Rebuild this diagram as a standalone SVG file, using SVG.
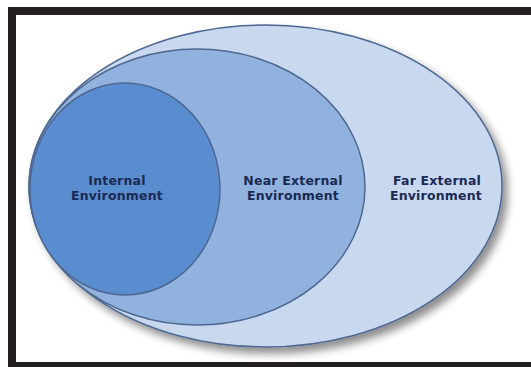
<svg xmlns="http://www.w3.org/2000/svg" width="531" height="367" viewBox="0 0 531 367">
<defs>
<filter id="sh" x="-10%" y="-10%" width="125%" height="130%">
<feGaussianBlur in="SourceAlpha" stdDeviation="4"/>
<feOffset dx="5" dy="6" result="b"/>
<feComponentTransfer><feFuncA type="linear" slope="0.45"/></feComponentTransfer>
<feMerge><feMergeNode/><feMergeNode in="SourceGraphic"/></feMerge>
</filter>
</defs>
<style>
.lbl{font-family:"DejaVu Sans",Verdana,sans-serif;font-weight:bold;font-size:12.5px;fill:#1b2a52;text-anchor:middle;letter-spacing:0.2px}
.ring{stroke:#4d6791;stroke-width:1.5}
</style>
<rect x="0" y="0" width="531" height="367" fill="#ffffff"/>
<g id="frame" fill="#231f20">
<rect x="8" y="7" width="523" height="8"/>
<rect x="8" y="7" width="8" height="360"/>
<rect x="8" y="362" width="523" height="5"/>
</g>
<g id="far">
<ellipse cx="265.5" cy="186" rx="236.5" ry="161" fill="#c7d8ef" class="ring" filter="url(#sh)"/>
<text class="lbl" x="437" y="185">Far External</text>
<text class="lbl" x="436" y="200">Environment</text>
</g>
<g id="near">
<ellipse cx="197" cy="187" rx="168" ry="138" fill="#91b2de" class="ring"/>
<text class="lbl" x="293" y="185">Near External</text>
<text class="lbl" x="293" y="200">Environment</text>
</g>
<g id="internal">
<ellipse cx="125" cy="189" rx="95" ry="106" fill="#5a8dcf" class="ring"/>
<text class="lbl" x="117" y="185">Internal</text>
<text class="lbl" x="117" y="200">Environment</text>
</g>
<g id="connectors"/>
</svg>
